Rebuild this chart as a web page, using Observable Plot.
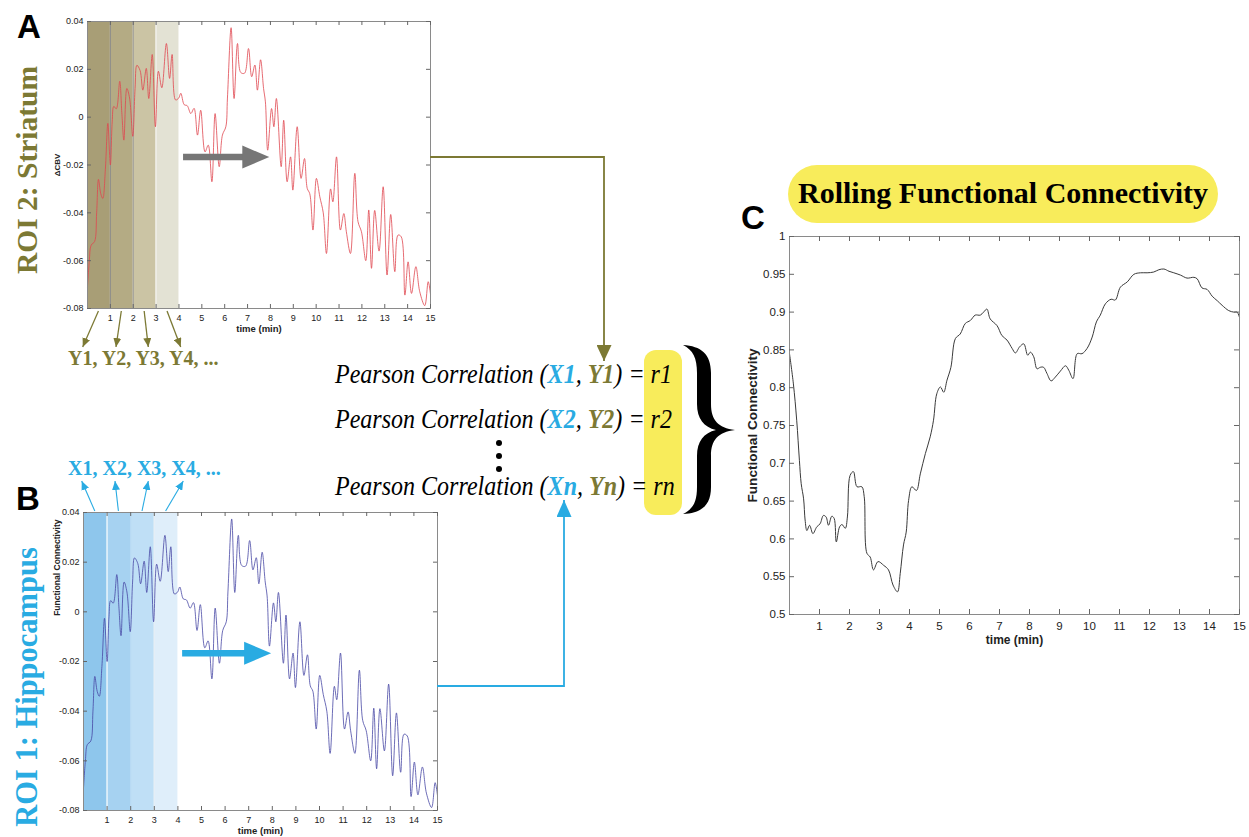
<!DOCTYPE html>
<html>
<head>
<meta charset="utf-8">
<script src="https://cdn.jsdelivr.net/npm/d3@7"></script>
<script src="https://cdn.jsdelivr.net/npm/@observablehq/plot@0.6"></script>
<style>
html,body{margin:0;padding:0;background:#fff;}
#fig{position:relative;width:1249px;height:837px;overflow:hidden;background:#fff;}
.panel{position:absolute;}
.panel svg{max-width:none !important;}
#overlay{position:absolute;left:0;top:0;pointer-events:none;}
</style>
</head>
<body>
<div id="fig"></div>
<script>
// ---------------- DATA ----------------
// ΔCBV trace (time in min, value) — the same trace is shown for both ROIs in the figure
const cbvSeries = [
  [0.00,-0.071],[0.08,-0.060],[0.16,-0.0535],[0.31,-0.052],[0.40,-0.040],[0.48,-0.026],[0.58,-0.032],
  [0.67,-0.034],[0.78,-0.022],[0.89,-0.0026],[1.00,-0.020],[1.08,-0.002],[1.15,0.0045],[1.26,0.0035],
  [1.41,0.015],[1.50,0.002],[1.59,-0.0096],[1.72,0.012],[1.84,0.008],[1.98,-0.008],[2.08,0.012],
  [2.16,0.0217],[2.30,0.0195],[2.42,0.0113],[2.57,0.0204],[2.68,0.0078],[2.83,0.0262],[2.97,-0.004],
  [3.10,0.0192],[3.25,0.0123],[3.45,0.0308],[3.59,0.0162],[3.70,0.0262],[3.85,0.0072],[3.99,0.0080],
  [4.08,0.0100],[4.23,0.0052],[4.36,0.0048],[4.52,0.0015],[4.66,0.0037],[4.81,-0.0075],[4.95,0.0029],
  [5.14,-0.0145],[5.28,-0.0117],[5.44,-0.027],[5.58,0.0015],[5.76,-0.0207],[5.90,-0.0075],[6.05,-0.004],
  [6.12,0.008],[6.28,0.0374],[6.41,0.0078],[6.56,0.0308],[6.70,0.0187],[6.87,0.0184],[7.04,0.0287],
  [7.18,0.0169],[7.32,0.0218],[7.43,0.0113],[7.57,0.0240],[7.70,0.012],[7.78,0.0064],[7.88,-0.0138],
  [8.05,0.0036],[8.15,-0.0040],[8.26,0.0078],[8.47,-0.0207],[8.58,-0.0013],[8.73,-0.0270],[8.88,-0.0166],
  [8.98,-0.0305],[9.17,-0.0040],[9.34,-0.0256],[9.49,-0.0173],[9.61,-0.0298],[9.72,-0.032],[9.86,-0.0472],
  [10.01,-0.0256],[10.16,-0.0333],[10.31,-0.040],[10.45,-0.057],[10.63,-0.0300],[10.73,-0.0354],
  [10.89,-0.0166],[11.06,-0.0472],[11.21,-0.0403],[11.32,-0.0479],[11.50,-0.0570],[11.69,-0.0235],
  [11.83,-0.0437],[11.98,-0.0479],[12.17,-0.0600],[12.30,-0.0388],[12.42,-0.0632],[12.56,-0.0390],
  [12.75,-0.0560],[12.93,-0.0291],[13.10,-0.0660],[13.26,-0.0407],[13.44,-0.0646],[13.58,-0.0493],
  [13.72,-0.0500],[13.88,-0.0744],[14.02,-0.0605],[14.17,-0.0737],[14.36,-0.0625],[14.53,-0.0730],
  [14.75,-0.0788],[14.90,-0.0688],[15.00,-0.0740]
];
// Rolling functional connectivity (time in min, r)
const fcSeries = [
  [0,0.845],[0.13,0.805],[0.24,0.757],[0.33,0.704],[0.39,0.673],[0.47,0.653],[0.52,0.625],[0.58,0.611],
  [0.67,0.618],[0.78,0.607],[0.91,0.616],[1.02,0.620],[1.13,0.631],[1.22,0.629],[1.30,0.618],[1.41,0.630],
  [1.49,0.627],[1.56,0.596],[1.67,0.616],[1.75,0.619],[1.86,0.614],[1.93,0.629],[2.02,0.684],[2.13,0.689],
  [2.25,0.669],[2.41,0.669],[2.49,0.656],[2.58,0.581],[2.69,0.576],[2.80,0.559],[2.95,0.570],[3.14,0.565],
  [3.30,0.559],[3.45,0.539],[3.60,0.530],[3.69,0.554],[3.80,0.592],[3.89,0.609],[3.97,0.651],[4.08,0.669],
  [4.23,0.664],[4.36,0.686],[4.53,0.713],[4.69,0.735],[4.80,0.757],[4.91,0.792],[5.03,0.801],[5.14,0.794],
  [5.25,0.810],[5.38,0.827],[5.53,0.865],[5.69,0.871],[5.86,0.885],[6.03,0.889],[6.19,0.896],[6.36,0.896],
  [6.47,0.900],[6.58,0.904],[6.69,0.891],[6.92,0.882],[7.08,0.869],[7.25,0.863],[7.42,0.852],[7.53,0.846],
  [7.67,0.854],[7.81,0.858],[7.94,0.843],[8.03,0.847],[8.14,0.841],[8.25,0.825],[8.36,0.827],[8.47,0.827],
  [8.58,0.819],[8.72,0.809],[8.86,0.814],[9.03,0.822],[9.20,0.829],[9.31,0.823],[9.45,0.812],[9.59,0.845],
  [9.75,0.845],[9.92,0.852],[10.09,0.867],[10.23,0.887],[10.36,0.896],[10.53,0.911],[10.72,0.917],
  [10.86,0.916],[11.03,0.933],[11.26,0.940],[11.48,0.950],[11.70,0.952],[11.92,0.952],[12.14,0.953],
  [12.31,0.956],[12.48,0.957],[12.65,0.954],[12.81,0.952],[13.03,0.949],[13.25,0.945],[13.48,0.946],
  [13.59,0.944],[13.75,0.932],[13.92,0.930],[14.09,0.921],[14.26,0.915],[14.42,0.909],[14.64,0.902],
  [14.81,0.900],[14.92,0.900],[15.0,0.893]
];
const timeTicks = [1,2,3,4,5,6,7,8,9,10,11,12,13,14,15];
const cbvTicks = [-0.08,-0.06,-0.04,-0.02,0,0.02,0.04];
const fcTicks = [0.5,0.55,0.6,0.65,0.7,0.75,0.8,0.85,0.9,0.95,1];
// sliding windows (min)
const windowStart = [0,1,2,3];
const windowEnd   = [1,2,3,4];
const striatumWindowColors = ["#a89e76","#b4ab84","#cbc4a4","#e3e2d4"];
const hippoWindowColors    = ["#8ec6ec","#a6d2f1","#bfdff6","#dfeefa"];
const striatumWindowLabels = ["Y1","Y2","Y3","Y4"];
const hippoWindowLabels    = ["X1","X2","X3","X4"];
const correlationRows = [["X1","Y1","r1"],["X2","Y2","r2"],["Xn","Yn","rn"]];
const slide = {from: 4.2, to: 7.95, level: -0.0167};

// ---------------- STYLE ----------------
const OLIVE = "#7c7934", BLUE = "#29abe2", YELLOW = "#f8ec5b";
const SANS = "'Liberation Sans', Arial, Helvetica, sans-serif";
const SERIF = "'Liberation Serif', 'Times New Roman', Times, serif";
const fig = document.getElementById("fig");

const headSymbol = {draw(ctx){ ctx.moveTo(13.5,0); ctx.lineTo(-13.5,-11.5); ctx.lineTo(-13.5,11.5); ctx.closePath(); }};

function innerTicks(xTicks, yTicks, iw, ih, len, color){
  return [
    Plot.tickX(xTicks, {x: d=>d, insetTop: ih-len, stroke: color}),
    Plot.tickX(xTicks, {x: d=>d, insetBottom: ih-len, stroke: color}),
    Plot.tickY(yTicks, {y: d=>d, insetRight: iw-len, stroke: color}),
    Plot.tickY(yTicks, {y: d=>d, insetLeft: iw-len, stroke: color})
  ];
}

function tracePanel(o){
  const iw = o.width - o.ml - o.mr, ih = o.height - o.mt - o.mb;
  const bands = windowStart.map((s,i)=>({start:s, end:windowEnd[i], color:o.bandColors[i]}));
  const marks = [
    Plot.rect(bands, {x1:"start", x2:"end", fill:"color"}),
    Plot.ruleX(o.seps, {x:"t", stroke:"color", strokeWidth:1}),
    Plot.line(cbvSeries, {x:d=>d[0], y:d=>d[1], stroke:o.lineColor, strokeWidth:0.8, curve:"catmull-rom"}),
    Plot.ruleY([slide], {y:"level", x1:"from", x2:"to", stroke:o.arrowColor, strokeWidth:6.5, insetRight:25}),
    Plot.dot([slide], {x:"to", y:"level", symbol:headSymbol, fill:o.arrowColor, stroke:"none", dx:-13.5}),
    Plot.frame({stroke:"#8a8a8a"}),
    ...innerTicks(timeTicks, cbvTicks, iw, ih, 4, "#666"),
    Plot.axisX(timeTicks, {anchor:"bottom", tickSize:0, tickPadding:6, label:null, fontSize:9, tickFormat:d=>String(d)}),
    Plot.axisY(cbvTicks, {anchor:"left", tickSize:0, tickPadding:4, label:null, fontSize:9, tickFormat:d=>String(d)}),
    Plot.text(["time (min)"], {frameAnchor:"bottom", textAnchor:"middle", dy:23, fontWeight:"bold", fontSize:9.5, text:d=>d}),
    o.yLabelMark
  ];
  return Plot.plot({
    width:o.width, height:o.height, marginLeft:o.ml, marginRight:o.mr, marginTop:o.mt, marginBottom:o.mb,
    x:{domain:[0,15], axis:null}, y:{domain:[-0.08,0.04], axis:null},
    color:{type:"identity"},
    style:{fontFamily:SANS, background:"transparent", overflow:"visible", color:"#222"},
    marks
  });
}

function place(node, left, top, w, h){
  const d = document.createElement("div");
  d.className = "panel";
  d.style.left = left+"px"; d.style.top = top+"px"; d.style.width = w+"px"; d.style.height = h+"px";
  d.appendChild(node); fig.appendChild(d);
}

// Panel A (striatum)
const plotA = tracePanel({
  width:440, height:340, ml:87, mr:10, mt:21, mb:32,
  bandColors: striatumWindowColors,
  seps: [{t:1,color:"#8c8c8c"},{t:2,color:"#9a9a9a"},{t:3,color:"#f4f4f0"}],
  lineColor:"#e0464f", arrowColor:"#767676",
  yLabelMark: Plot.text(["ΔCBV"], {frameAnchor:"left", textAnchor:"middle", rotate:-90, dx:-30, fontWeight:"bold", fontSize:8, text:d=>d})
});
place(plotA, 0, 0, 440, 340);

// Panel B (hippocampus)
const plotB = tracePanel({
  width:447, height:357, ml:83, mr:10, mt:32, mb:27,
  bandColors: hippoWindowColors,
  seps: [{t:1,color:"#ffffff"},{t:2,color:"#b4d8f3"},{t:3,color:"#e6eef5"}],
  lineColor:"#4848a4", arrowColor:BLUE,
  yLabelMark: Plot.text(["Functional Connectivity"], {frameAnchor:"top-left", rotate:-90, textAnchor:"end", dx:-30, dy:7, fontWeight:"bold", fontSize:8.5, text:d=>d})
});
place(plotB, 0, 480, 447, 357);

// Panel C (rolling FC)
const wC = 549, hC = 428, mlC = 89, mrC = 10, mtC = 10, mbC = 40;
const plotC = Plot.plot({
  width:wC, height:hC, marginLeft:mlC, marginRight:mrC, marginTop:mtC, marginBottom:mbC,
  x:{domain:[0,15], axis:null}, y:{domain:[0.5,1], axis:null},
  style:{fontFamily:SANS, background:"transparent", overflow:"visible", color:"#222"},
  marks:[
    Plot.line(fcSeries, {x:d=>d[0], y:d=>d[1], stroke:"#3a3a3a", strokeWidth:1, curve:"catmull-rom"}),
    Plot.frame({stroke:"#8a8a8a"}),
    ...innerTicks(timeTicks, fcTicks, wC-mlC-mrC, hC-mtC-mbC, 5, "#666"),
    Plot.axisX(timeTicks, {anchor:"bottom", tickSize:0, tickPadding:7, label:null, fontSize:11.5, tickFormat:d=>String(d)}),
    Plot.axisY(fcTicks, {anchor:"left", tickSize:0, tickPadding:4, label:null, fontSize:11.5, tickFormat:d=>String(d)}),
    Plot.text(["time (min)"], {frameAnchor:"bottom", textAnchor:"middle", dy:29, fontWeight:"bold", fontSize:12, text:d=>d}),
    Plot.text(["Functional Connectivity"], {frameAnchor:"left", textAnchor:"middle", rotate:-90, dx:-37, fontWeight:"bold", fontSize:13.6, text:d=>d})
  ]
});
place(plotC, 700, 226, wC, hC);

// ---------------- ANNOTATION OVERLAY ----------------
const ov = d3.select(fig).append("svg").attr("id","overlay").attr("width",1249).attr("height",837);
const defs = ov.append("defs");
function marker(id, color, len, wid){
  defs.append("marker").attr("id",id).attr("viewBox",`0 0 ${len} ${wid}`)
    .attr("refX",len).attr("refY",wid/2).attr("markerWidth",len).attr("markerHeight",wid)
    .attr("markerUnits","userSpaceOnUse").attr("orient","auto")
    .append("path").attr("d",`M0,0L${len},${wid/2}L0,${wid}Z`).attr("fill",color);
}
marker("hOlive", OLIVE, 9, 8);
marker("hBlue", BLUE, 9, 8);
marker("bigOlive", OLIVE, 16, 15);
marker("bigBlue", BLUE, 17, 15);

// panel letters
[["A",17,38],["B",16,510],["C",741,229]].forEach(([t,x,y])=>{
  ov.append("text").attr("x",x).attr("y",y).text(t)
    .attr("font-family",SANS).attr("font-weight","bold").attr("font-size",33).attr("fill","#000");
});

// ROI labels (rotated)
ov.append("text").attr("transform","translate(37,170) rotate(-90)").attr("text-anchor","middle")
  .attr("font-family",SERIF).attr("font-weight","bold").attr("font-size",29.5).attr("fill",OLIVE).text("ROI 2: Striatum");
ov.append("text").attr("transform","translate(37,687) rotate(-90)").attr("text-anchor","middle")
  .attr("font-family",SERIF).attr("font-weight","bold").attr("font-size",30.5).attr("fill",BLUE).text("ROI 1: Hippocampus");

// window label rows
ov.append("text").attr("x",68).attr("y",365).attr("font-family",SERIF).attr("font-weight","bold")
  .attr("font-size",20).attr("fill",OLIVE).text(striatumWindowLabels.join(", ") + ", ...");
ov.append("text").attr("x",68).attr("y",475).attr("font-family",SERIF).attr("font-weight","bold")
  .attr("font-size",20).attr("fill",BLUE).text(hippoWindowLabels.join(", ") + ", ...");

// window -> label arrows (start at window centres via Plot scales)
const sxA = plotA.scale("x"), sxB = plotB.scale("x");
const yEndsA = [82.7,116,148.3,180.7], xEndsB = [81.7,115,148.3,183.3];
windowStart.forEach((s,i)=>{
  const c = (s + windowEnd[i]) / 2;
  ov.append("line").attr("x1",sxA.apply(c)).attr("y1",311).attr("x2",yEndsA[i]).attr("y2",347)
    .attr("stroke",OLIVE).attr("stroke-width",1.3).attr("marker-end","url(#hOlive)");
  ov.append("line").attr("x1",sxB.apply(c)).attr("y1",511).attr("x2",xEndsB[i]).attr("y2",481)
    .attr("stroke",BLUE).attr("stroke-width",1.1).attr("marker-end","url(#hBlue)");
});

// connectors to the correlation block
ov.append("polyline").attr("points","430,157 604,157 604,361").attr("fill","none")
  .attr("stroke",OLIVE).attr("stroke-width",1.8).attr("marker-end","url(#bigOlive)");
ov.append("polyline").attr("points","437,686 564,686 564,500").attr("fill","none")
  .attr("stroke",BLUE).attr("stroke-width",1.8).attr("marker-end","url(#bigBlue)");

// yellow r-box
ov.append("rect").attr("x",644).attr("y",350).attr("width",38).attr("height",165).attr("rx",12).attr("fill",YELLOW);

// correlation rows (slightly condensed serif italic, as in the figure)
const rowY = [383, 428, 495];
correlationRows.forEach(([xl,yl,rl],i)=>{
  const t = ov.append("text").attr("transform",`translate(335,${rowY[i]}) scale(0.89,1)`)
    .attr("font-family",SERIF).attr("font-style","italic").attr("font-size",27).attr("fill","#000");
  t.append("tspan").text("Pearson Correlation (");
  t.append("tspan").attr("font-weight","bold").attr("fill",BLUE).text(xl);
  t.append("tspan").text(", ");
  t.append("tspan").attr("font-weight","bold").attr("fill",OLIVE).text(yl);
  t.append("tspan").text(") = " + rl);
});
// vertical ellipsis
[443,456,469].forEach(y=> ov.append("circle").attr("cx",499).attr("cy",y).attr("r",3).attr("fill","#000"));

// curly brace
ov.append("path").attr("fill","#000").attr("d",
  "M683,345 C701,346 711,354 711,373 L711,404 C711,420 718,428 735,430 " +
  "C718,432 711,440 711,456 L711,487 C711,506 701,513 683,514 " +
  "C693,509 697,502 697,487 L697,456 C697,441 704,433 716,430 " +
  "C704,427 697,419 697,404 L697,373 C697,358 693,350 683,345 Z");

// Title pill
ov.append("rect").attr("x",788).attr("y",165).attr("width",430).attr("height",58).attr("rx",29).attr("fill",YELLOW);
ov.append("text").attr("x",1003).attr("y",203).attr("text-anchor","middle").attr("font-family",SERIF)
  .attr("font-weight","bold").attr("font-size",30).attr("fill","#000").text("Rolling Functional Connectivity");
</script>
</body>
</html>
